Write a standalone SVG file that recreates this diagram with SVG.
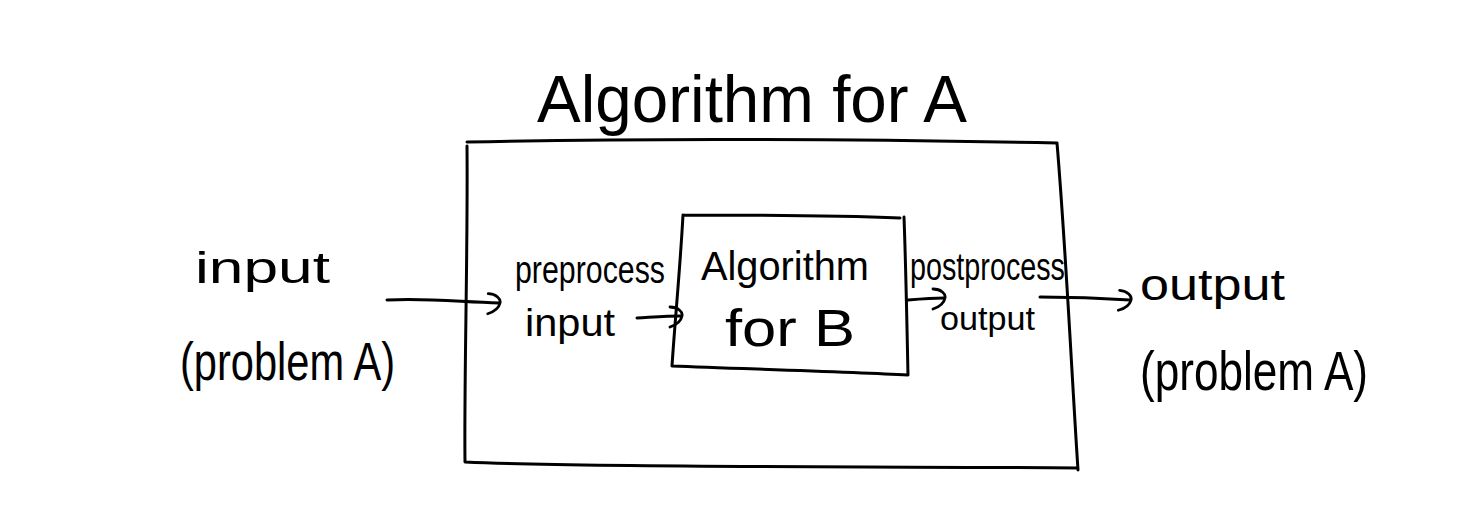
<svg xmlns="http://www.w3.org/2000/svg" width="1484" height="512" viewBox="0 0 1484 512">
<style>
.ln{fill:none;stroke:#000;stroke-width:3;stroke-linecap:round;stroke-linejoin:round}
.t{font-family:"Liberation Sans",Arial,sans-serif;fill:#000}
</style>
<defs>
<marker id="ah" viewBox="0 0 16 24" refX="13" refY="11" markerWidth="16" markerHeight="24" markerUnits="userSpaceOnUse" orient="auto">
<path d="M2,2 C10,2 15,7 14,11 C13,16 8,20 2,22" fill="none" stroke="#000" stroke-width="2.8" stroke-linecap="round"/>
</marker>
</defs>
<rect width="1484" height="512" fill="#fff"/>
<g id="outer">
<path class="ln" d="M467,142 C700,137 900,140 1057,143 M467,146 C468,250 464,380 465,462 C600,468 900,466 1078,468 M1057,143 C1066,250 1072,380 1078,470"/>
<text class="t" x="752" y="122" font-size="66" text-anchor="middle" textLength="430" lengthAdjust="spacingAndGlyphs">Algorithm for A</text>
</g>
<g id="input">
<text class="t" x="195" y="283" font-size="44" textLength="135" lengthAdjust="spacingAndGlyphs">input</text>
<text class="t" x="180" y="380" font-size="54" textLength="215" lengthAdjust="spacingAndGlyphs">(problem A)</text>
</g>
<g id="preprocess">
<text class="t" x="515" y="283" font-size="38" textLength="150" lengthAdjust="spacingAndGlyphs">preprocess</text>
<text class="t" x="525" y="336" font-size="38" textLength="90" lengthAdjust="spacingAndGlyphs">input</text>
</g>
<g id="algB">
<path class="ln" d="M683,215 C750,215 850,216 900,218 M683,215 C680,270 675,320 672,366 C750,369 850,372 908,375 M904,217 C906,270 907,330 908,375"/>
<text class="t" x="785" y="280" font-size="40" text-anchor="middle" textLength="168" lengthAdjust="spacingAndGlyphs">Algorithm</text>
<text class="t" x="790" y="346" font-size="52" text-anchor="middle" textLength="130" lengthAdjust="spacingAndGlyphs">for B</text>
</g>
<g id="postprocess">
<text class="t" x="910" y="280" font-size="38" textLength="155" lengthAdjust="spacingAndGlyphs">postprocess</text>
<text class="t" x="940" y="330" font-size="34" textLength="95" lengthAdjust="spacingAndGlyphs">output</text>
</g>
<g id="output">
<text class="t" x="1140" y="300" font-size="44" textLength="145" lengthAdjust="spacingAndGlyphs">output</text>
<text class="t" x="1140" y="390" font-size="56" textLength="228" lengthAdjust="spacingAndGlyphs">(problem A)</text>
</g>
<g id="connectors">
<path class="ln" d="M387,300 C430,298 460,302 499,303" marker-end="url(#ah)"/>
<path class="ln" d="M637,318 C655,317 668,316 681,316" marker-end="url(#ah)"/>
<path class="ln" d="M908,300 C920,299 932,298 944,298" marker-end="url(#ah)"/>
<path class="ln" d="M1040,297 C1070,297 1100,298 1130,300" marker-end="url(#ah)"/>
</g>
</svg>
